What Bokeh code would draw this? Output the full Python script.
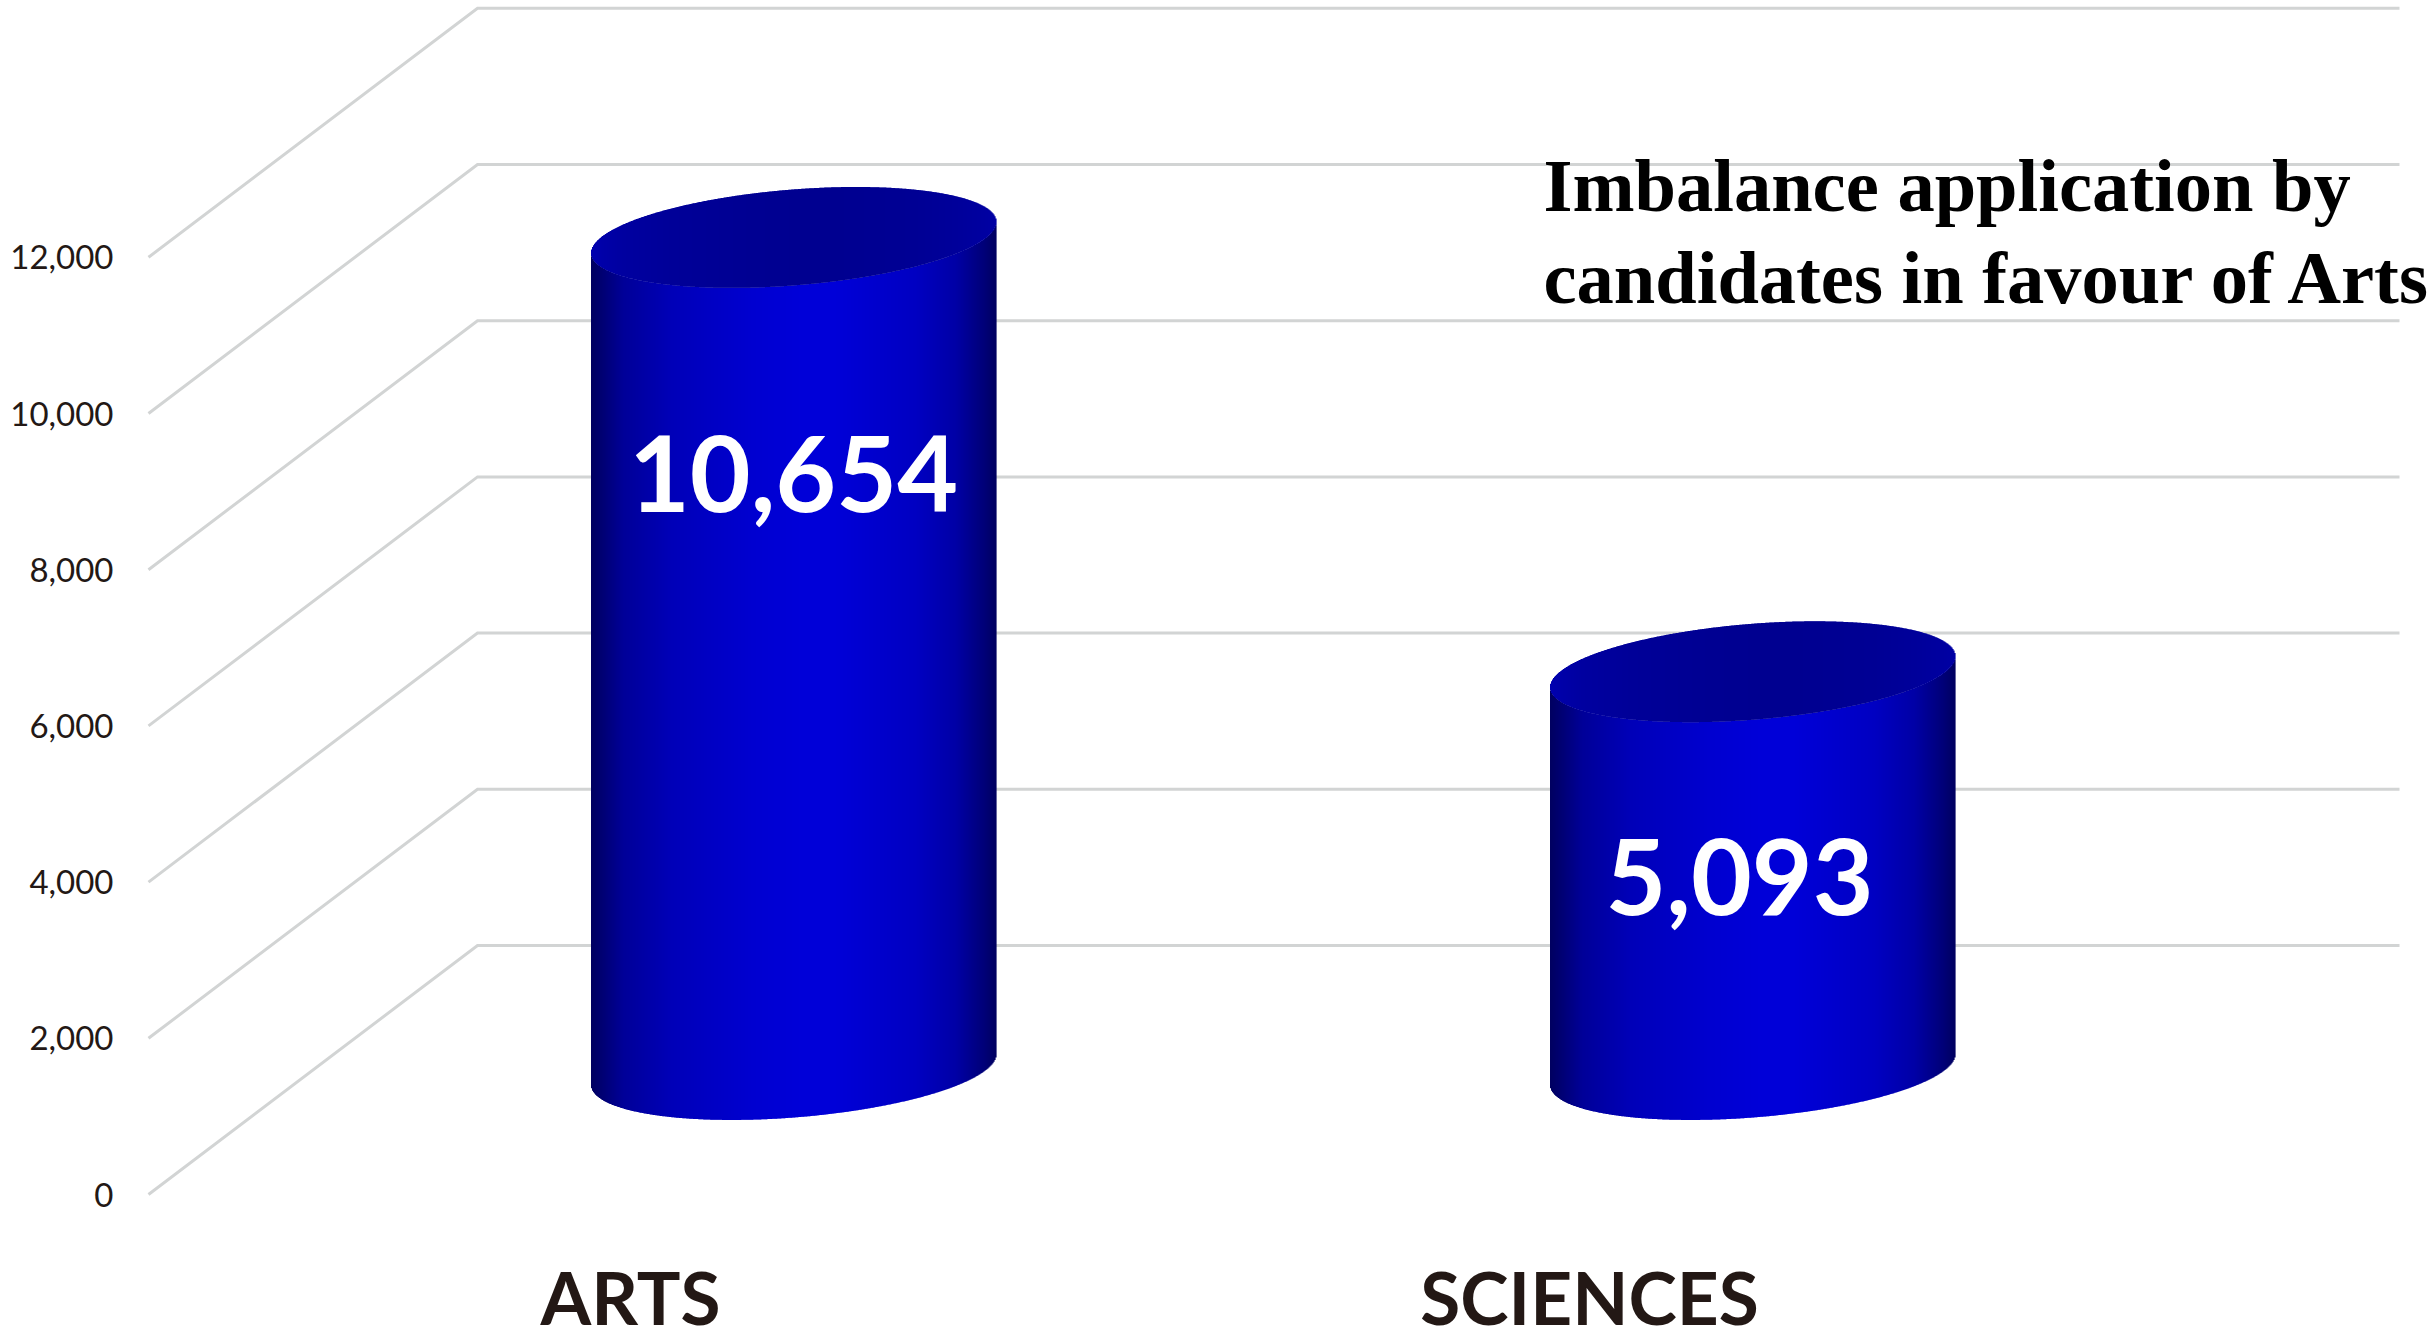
from bokeh.plotting import figure
from bokeh.models import Range1d, LinearAxis, FixedTicker
from bokeh.core.properties import value
from bokeh.embed import file_html
from bokeh.resources import INLINE
import numpy as np

# ---- data ----
categories = ["ARTS", "SCIENCES"]
applications = [10654, 5093]
data_labels = ["10,654", "5,093"]
y_ticks = [0, 2000, 4000, 6000, 8000, 10000, 12000]
title_lines = ["Imbalance application by", "candidates in favour of Arts"]

# ---- layout (page pixels) ----
W, H = 2430, 1340
FRAME_L = 125
CAT0_PX, CAT_STEP = 630.0, 959.0      # category centres on the front plane
ZERO_PX, PX_PER_UNIT = 1194.0, 0.0781 # value 0 on the front plane, vertical scale

def xd(px): return (px - CAT0_PX) / CAT_STEP
def yd(px): return (ZERO_PX - px) / PX_PER_UNIT
def dy(px): return px / PX_PER_UNIT

p = figure(width=W, height=H, output_backend="svg", toolbar_location=None,
           x_range=Range1d(xd(FRAME_L), xd(W)), y_range=Range1d(yd(H), yd(0)),
           x_axis_type=None, y_axis_type=None,
           min_border_left=FRAME_L, min_border_right=0, min_border_top=0,
           min_border_bottom=0, outline_line_color=None,
           background_fill_color="white", border_fill_color="white")
p.grid.visible = False

# value axis
ya = LinearAxis(ticker=FixedTicker(ticks=y_ticks), axis_line_color=None,
                major_tick_line_color=None, minor_tick_line_color=None,
                major_label_text_font="Lato", major_label_text_font_size="33px",
                major_label_text_color="#231815", major_label_standoff=6)
ya.major_label_overrides = {v: f"{v:,}" for v in y_ticks}
p.add_layout(ya, "left")

# projected gridlines: front edge -> back wall -> right end
DEPTH_X, DEPTH_Y = 329.0, 249.0
GRID_L, GRID_R = 148.0, 2399.0
gx = [[xd(GRID_L), xd(GRID_L + DEPTH_X), xd(GRID_R)] for _ in y_ticks]
gy = [[v, v + dy(DEPTH_Y), v + dy(DEPTH_Y)] for v in y_ticks]
p.multi_line(gx, gy, line_color="#d2d4d4", line_width=3, line_join="miter")

# cylinders
HALF_W, TILT, MINOR = 202.5, 15.5, 48.0
MID_X, MID_Y = 163.0, 125.0

stops_pos = [0, .03, .08, .2, .4, .52, .6, .8, .9, .97, 1]
body_blue = [0x60, 0x74, 0x98, 0xb8, 0xd0, 0xd8, 0xd8, 0xc2, 0xa6, 0x78, 0x60]
cap_blue  = [0xb0, 0xa8, 0xa0, 0x98, 0x92, 0x90, 0x90, 0x94, 0x9a, 0xa0, 0xa4]

def shade(u, ramp):
    b = int(round(np.interp((u + 1) / 2, stops_pos, ramp)))
    return f"#0000{b:02x}"

for i, val in enumerate(applications):
    cx_px = CAT0_PX + i * CAT_STEP + MID_X
    xs_px = np.arange(cx_px - HALF_W, cx_px + HALF_W, 1.0)
    us = (xs_px + 0.5 - cx_px) / HALF_W
    slope = TILT * us
    bulge = MINOR * np.sqrt(np.clip(1 - us ** 2, 0, 1))
    left = xd(xs_px)
    right = xd(xs_px + 1.6)
    base, top = dy(MID_Y), val + dy(MID_Y)
    p.quad(left=left, right=right, bottom=base + dy(slope - bulge), top=top + dy(slope - bulge),
           fill_color=[shade(u, body_blue) for u in us], line_color=None)
    p.quad(left=left, right=right, bottom=top + dy(slope - bulge), top=top + dy(slope + bulge),
           fill_color=[shade(u, cap_blue) for u in us], line_color=None)

# category labels on the front plane
p.text(list(range(len(categories))), [yd(1296)] * len(categories), text=categories,
       text_font=value("Lato"), text_font_style="bold", text_font_size="73px",
       text_color="#231815", text_align="center", text_baseline="alphabetic")

# data labels (hand placed in the source chart)
label_x = [xd(793), xd(1739)]
label_y = [yd(473), yd(876)]
p.text(label_x, label_y, text=data_labels, text_font=value("Lato"), text_font_style="bold",
       text_font_size="105px", text_color="white", text_align="center", text_baseline="alphabetic")

# annotation
p.text([xd(1543)] * 2, [yd(185), yd(277)], text=title_lines, text_font=value("Liberation Serif"),
       text_font_style="bold", text_font_size="74.5px", text_color="black",
       text_align="left", text_baseline="alphabetic")

open("out.html", "w").write(file_html(p, INLINE))
